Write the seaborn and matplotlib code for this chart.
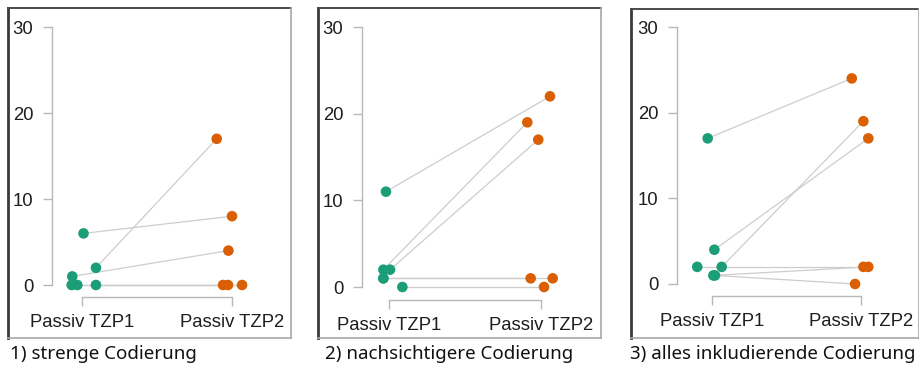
import matplotlib
matplotlib.use("Agg")
import matplotlib.pyplot as plt
import seaborn as sns
import pandas as pd
from matplotlib.lines import Line2D

# --- data ---
time_labels = ["Passiv TZP1", "Passiv TZP2"]
captions = ["1) strenge Codierung", "2) nachsichtigere Codierung", "3) alles inkludierende Codierung"]

strict_tzp1 = [6, 1, 2, 0, 0, 0]
strict_tzp2 = [8, 4, 17, 0, 0, 0]
strict_jit1 = [0.01, -0.065, 0.093, -0.069, -0.031, 0.093]
strict_jit2 = [0.0, -0.024, -0.102, -0.06, -0.027, 0.067]

lenient_tzp1 = [11, 2, 2, 1, 1, 0]
lenient_tzp2 = [22, 19, 17, 1, 1, 0]
lenient_jit1 = [-0.02, -0.037, 0.007, -0.037, -0.037, 0.088]
lenient_jit2 = [0.059, -0.090, -0.018, -0.068, 0.077, 0.020]

inclusive_tzp1 = [17, 4, 2, 2, 1, 1]
inclusive_tzp2 = [24, 17, 19, 2, 2, 0]
inclusive_jit1 = [-0.029, 0.016, 0.065, -0.099, 0.009, 0.02]
inclusive_jit2 = [-0.062, 0.049, 0.016, 0.016, 0.049, -0.040]

panels = [
    (strict_tzp1, strict_tzp2, strict_jit1, strict_jit2),
    (lenient_tzp1, lenient_tzp2, lenient_jit1, lenient_jit2),
    (inclusive_tzp1, inclusive_tzp2, inclusive_jit1, inclusive_jit2),
]

# layout in pixels: spine x, tick0 x, tick1 x, y of 30, y of 0, bracket y, frame box, caption x
layout = [
    dict(spine=52, t0=82, t1=232, y30=27, y0=285, br=297, frame=(8, 291, 8, 338), cap=10),
    dict(spine=362, t0=389, t1=541, y30=27, y0=287, br=300, frame=(318, 601, 8, 338), cap=325),
    dict(spine=677, t0=712, t1=861, y30=27, y0=284, br=296, frame=(631, 919, 9, 338), cap=630),
]

W, H = 920, 367
sns.set_style("white")
plt.rcParams['font.family'] = ['Liberation Sans', 'DejaVu Sans']

fig = plt.figure(figsize=(W / 100, H / 100), dpi=100)
colors = {time_labels[0]: "#1b9e77", time_labels[1]: "#d95f02"}
axis_grey = "#b8b8b8"


def px(x, y):
    return x / W, 1 - y / H


for (v1, v2, j1, j2), lay, cap in zip(panels, layout, captions):
    spacing = lay["t1"] - lay["t0"]
    right = lay["t1"] + 0.15 * spacing
    ax = fig.add_axes([lay["spine"] / W, 1 - lay["y0"] / H,
                       (right - lay["spine"]) / W, (lay["y0"] - lay["y30"]) / H])

    n = len(v1)
    df = pd.DataFrame({
        "subject": list(range(n)) * 2,
        "time": [time_labels[0]] * n + [time_labels[1]] * n,
        "value": v1 + v2,
        "x": [0 + j for j in j1] + [1 + j for j in j2],
    })

    sns.lineplot(data=df, x="x", y="value", units="subject", estimator=None,
                 color="#cdcdcd", lw=0.9, sort=False, ax=ax, clip_on=False, zorder=1)
    sns.scatterplot(data=df, x="x", y="value", hue="time", palette=colors,
                    s=58, edgecolor="none", legend=False, ax=ax, clip_on=False, zorder=3)

    ax.set_xlim(-(lay["t0"] - lay["spine"]) / spacing, 1.15)
    ax.set_ylim(0, 30)
    ax.set_xticks([0, 1])
    ax.set_xticklabels(time_labels)
    ax.set_yticks([0, 10, 20, 30])
    ax.set_xlabel("")
    ax.set_ylabel("")

    sns.despine(ax=ax)
    ax.spines["bottom"].set_position(("outward", (lay["br"] - lay["y0"]) * 0.72))
    ax.spines["bottom"].set_bounds(0, 1)
    ax.spines["left"].set_bounds(0, 30)
    for sp in ("bottom", "left"):
        ax.spines[sp].set_color(axis_grey)
        ax.spines[sp].set_linewidth(1.0)
    ax.tick_params(axis="both", which="major", length=6.5, width=1.0, color=axis_grey,
                   labelsize=13.3, labelcolor="#1e1e1e", bottom=True, left=True)
    ax.tick_params(axis="y", pad=7)
    ax.tick_params(axis="x", pad=6)
    ax.patch.set_visible(False)

    # picture frame: dark top/left, light bottom/right
    x0, x1, y0, y1 = lay["frame"]
    for (xa, ya), (xb, yb), c, w in [((x0, y1), (x0, y0), "#3a3a3a", 2.0),
                                     ((x0, y0), (x1, y0), "#4a4a4a", 1.4),
                                     ((x1, y0), (x1, y1), "#a8a8a8", 1.2),
                                     ((x0, y1), (x1, y1), "#a8a8a8", 1.2)]:
        pa, pb = px(xa, ya), px(xb, yb)
        fig.add_artist(Line2D([pa[0], pb[0]], [pa[1], pb[1]], transform=fig.transFigure,
                              color=c, lw=w, solid_capstyle="projecting"))
    fig.text(lay["cap"] / W, 1 - 354 / H, cap, ha="left", va="center",
             fontsize=13.5, color="#111111", family=["Noto Sans", "DejaVu Sans"])

fig.savefig("out.png", dpi=100)
